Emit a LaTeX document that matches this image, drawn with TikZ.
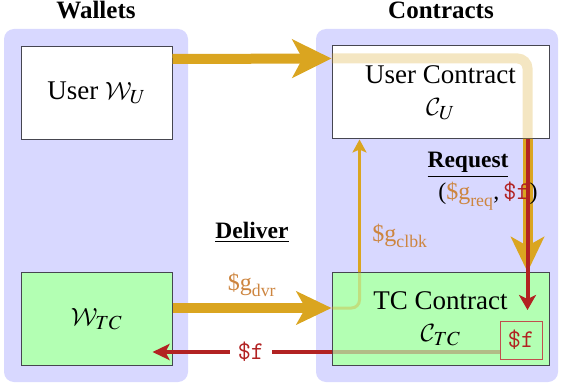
\documentclass[tikz,border=0pt]{standalone}
\usepackage{amsmath}
\usepackage{mathptmx}
\DeclareMathAlphabet{\mathcal}{OMS}{lmsy}{m}{n}
\usepackage[no-math]{fontspec}
\setmainfont{Liberation Serif}
\usetikzlibrary{arrows.meta,calc}
\definecolor{panel}{RGB}{216,216,255}
\definecolor{boxgreen}{RGB}{179,255,179}
\definecolor{gold}{RGB}{218,165,32}
\definecolor{fred}{RGB}{178,34,34}
\definecolor{labtan}{RGB}{205,133,63}
\definecolor{edgegrey}{RGB}{70,70,80}
\tikzset{
  panelbg/.style={fill=panel, rounded corners=10pt},
  box/.style={draw=edgegrey, line width=1pt, inner sep=0pt, align=center,
    font=\fontsize{27}{32}\selectfont},
  wbox/.style={box, minimum width=151pt, minimum height=93pt},
  cbox/.style={box, minimum width=217pt, minimum height=93pt},
  head/.style={font=\fontsize{25}{30}\selectfont\bfseries, anchor=base},
  stage/.style={font=\fontsize{23.5}{28}\selectfont\bfseries, anchor=base},
  lab/.style={font=\fontsize{24}{28}\selectfont, anchor=base},
  goldthick/.style={draw=gold, line width=10pt},
  redline/.style={draw=fred, line width=4pt},
  clbkline/.style={draw=gold, line width=3pt},
}
\newcommand{\gv}[1]{\textcolor{labtan}{$\text{\$g}_{\text{#1}}$}}
\newcommand{\fv}{\textcolor{fred}{\ttfamily\fontsize{25.5}{28}\selectfont\$f}}
\begin{document}
\begin{tikzpicture}[x=1pt,y=-1pt]
\useasboundingbox (0,0) rectangle (561,387);
% panels
\fill[panelbg] (4,29) rectangle (188,382);
\fill[panelbg] (316,29) rectangle (558,382);
% headings
\node[head] (wh) at (96,19) {Wallets};
\node[head] (ch) at (441,19) {Contracts};
% boxes
\node[wbox, fill=white] (wu) at (96.5,93) {User $\mathcal{W}_U$};
\node[wbox, fill=boxgreen] (wtc) at (96.5,319) {$\mathcal{W}_{TC}$};
\node[cbox, fill=white] (uc) at (440.5,92.5) {User Contract\\$\mathcal{C}_U$};
\node[cbox, fill=boxgreen] (tc) at (440.5,319) {TC Contract\\$\mathcal{C}_{TC}$};
\node[draw=fred!80, line width=0.8pt, fill=boxgreen, minimum width=42pt, minimum height=38pt, inner sep=0pt] (fbox) at (521,340) {\fv};
% request route
\draw[goldthick, -{Stealth[length=39pt,width=38pt,inset=10pt]}]
  ([yshift=-13pt]wu.north east) -- ([yshift=-13pt]uc.north west);
\draw[goldthick, draw opacity=0.27, rounded corners=10pt]
  ([yshift=-13pt]uc.north west) -| ([xshift=-22pt]uc.south east);
\draw[goldthick, -{Stealth[length=35pt,width=33pt,inset=9pt]}]
  ([xshift=-22pt]uc.south east) -- ([xshift=-22pt]tc.north east);
\draw[redline, -{Stealth[length=15pt,width=17pt,inset=4pt]}]
  ([xshift=-22pt]uc.south east) -- ([xshift=-22pt,yshift=-38pt]tc.north east);
\node[stage] (req) at (468,168) {\underline{Request}};
\node[lab] (reqlab) at (488,200) {(\gv{req},\,\fv)};
% deliver route
\draw[goldthick, -{Stealth[length=35pt,width=33pt,inset=9pt]}]
  ([yshift=11pt]wtc.east) -- ([yshift=11pt]tc.west)
  node[lab, midway, yshift=18pt] (dvr) {\gv{dvr}};
\node[stage] (del) at (252,238) {\underline{Deliver}};
\draw[clbkline, draw opacity=0.35, rounded corners=8pt]
  ([yshift=11pt]tc.west) -| ([xshift=28pt]tc.north west);
\draw[clbkline, -{Stealth[length=13pt,width=14pt,inset=3pt]}]
  ([xshift=28pt]tc.north west) -- ([xshift=28pt]uc.south west);
\node[lab] (clbk) at (400,241) {\gv{clbk}};
% fee return
\coordinate (fr) at ([yshift=-12pt]fbox.west);
\draw[redline, draw opacity=0.3] (fr) -- (fr -| tc.west);
\draw[redline, -{Stealth[length=17pt,width=16pt,inset=4pt]}]
  (fr -| tc.west) -- ($(fr -| wtc.east)+(-20,0)$)
  node[pos=0.45, fill=white, inner xsep=8pt, inner ysep=2pt] (flab) {\fv};
\end{tikzpicture}
\end{document}
